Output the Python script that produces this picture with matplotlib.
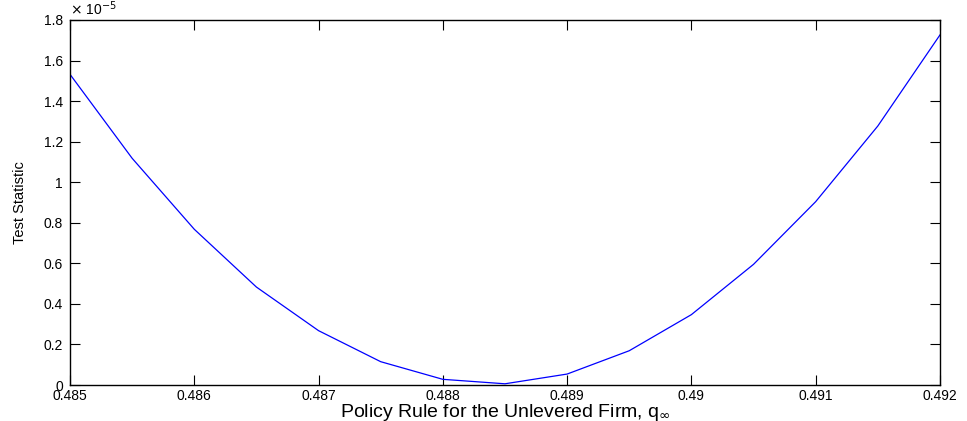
import numpy as np
import matplotlib
matplotlib.use("Agg")
import matplotlib.pyplot as plt
from matplotlib.ticker import FuncFormatter, MultipleLocator

plt.rcParams['font.family'] = ['Liberation Sans', 'DejaVu Sans']

# policy rule grid and test statistic (in units of 1e-5)
q_grid = [0.4850, 0.4855, 0.4860, 0.4865, 0.4870, 0.4875, 0.4880, 0.4885,
          0.4890, 0.4895, 0.4900, 0.4905, 0.4910, 0.4915, 0.4920]
test_stat = [1.532, 1.118, 0.768, 0.483, 0.268, 0.115, 0.028, 0.006,
             0.054, 0.169, 0.347, 0.595, 0.904, 1.277, 1.726]

fig = plt.figure(figsize=(9.67, 4.21), dpi=100)
ax = fig.add_axes([0.0724, 0.0855, 0.8996, 0.867])

ax.plot(q_grid, test_stat, color='#0000ff', lw=0.9)

ax.set_xlim(0.485, 0.492)
ax.set_ylim(0, 1.8)
ax.xaxis.set_major_locator(MultipleLocator(0.001))
ax.yaxis.set_major_locator(MultipleLocator(0.2))
fmt = FuncFormatter(lambda v, p: '{:g}'.format(round(v, 6)))
ax.xaxis.set_major_formatter(fmt)
ax.yaxis.set_major_formatter(fmt)

ax.tick_params(direction='in', length=7, width=0.8, top=True, right=True,
               labelsize=10)
ax.tick_params(axis='x', pad=3)
ax.tick_params(axis='y', pad=5)
for s in ax.spines.values():
    s.set_linewidth(1.0)

ax.text(0.0, 1.005, r'$\times$ 10$^{-5}$', transform=ax.transAxes,
        fontsize=10, ha='left', va='bottom')

ax.set_xlabel(r'Policy Rule for the Unlevered Firm, q$_\infty$', fontsize=14,
              labelpad=-1)
ax.set_ylabel('Test Statistic', fontsize=10.5, labelpad=12)

fig.savefig('out.png', dpi=100)
